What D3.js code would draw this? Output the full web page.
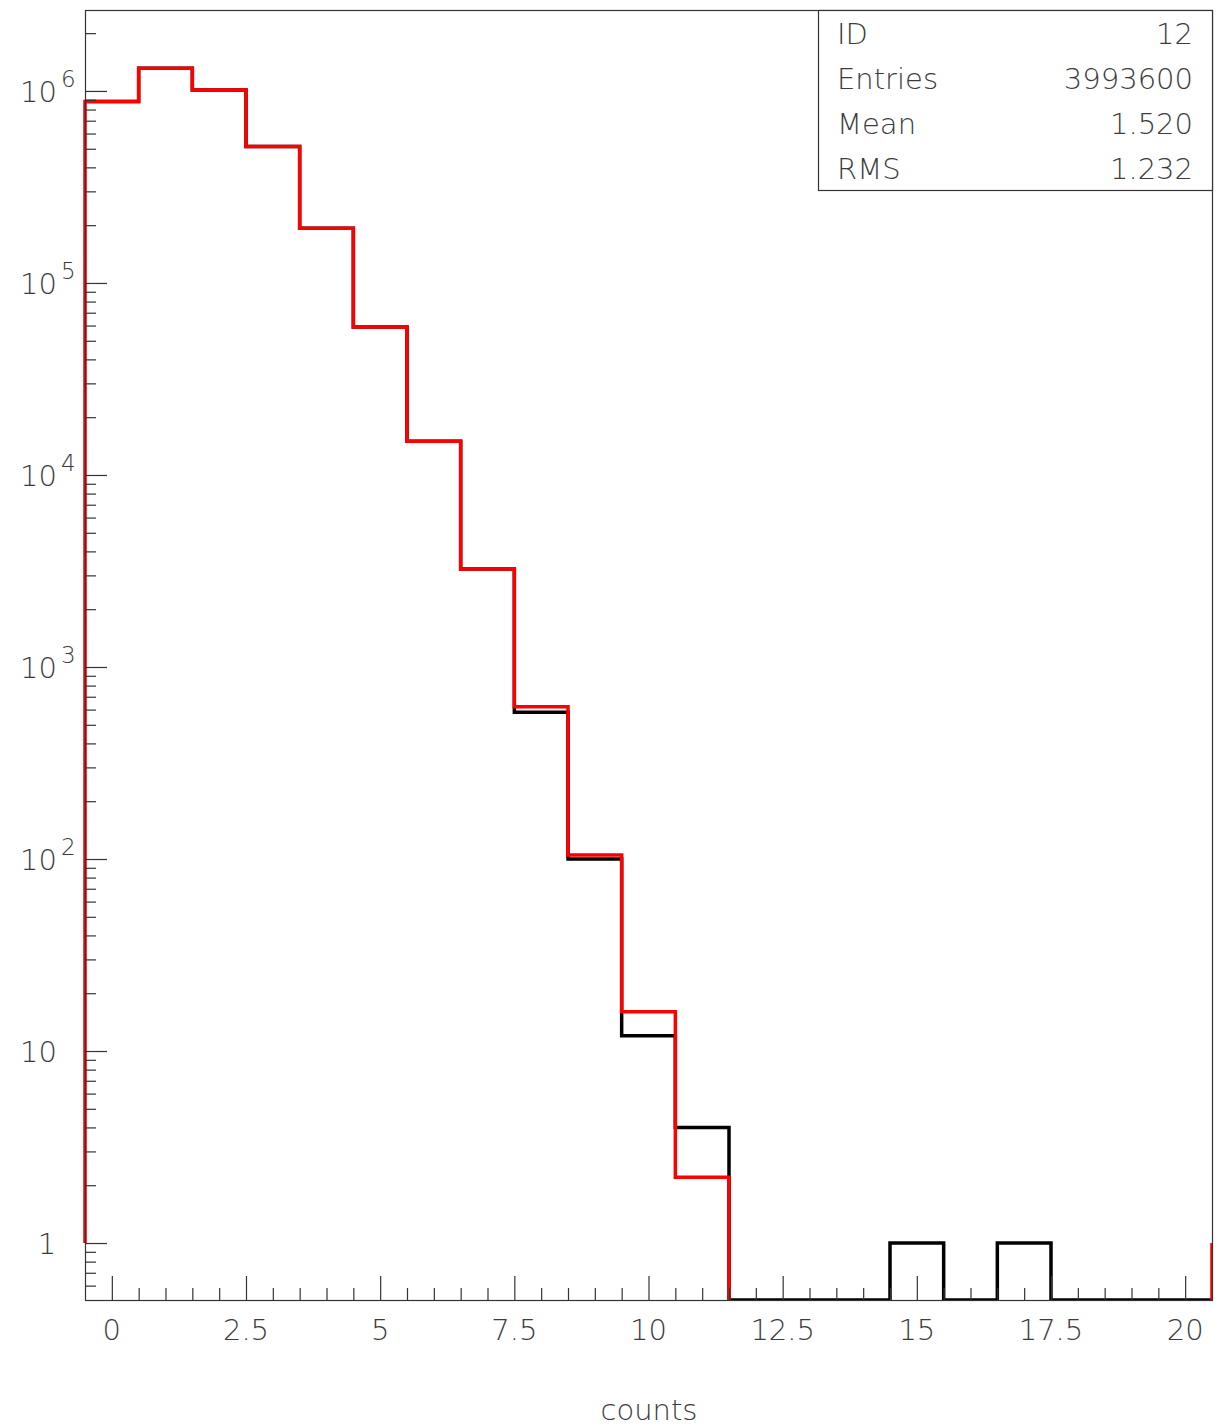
<!DOCTYPE html>
<html>
<head>
<meta charset="utf-8">
<script src="https://cdn.jsdelivr.net/npm/d3@7"></script>
<style>
  html, body { margin: 0; padding: 0; background: #fff; }
  svg text { font-family: "DejaVu Sans", "Liberation Sans", sans-serif; font-weight: 200; }
</style>
</head>
<body>
<svg id="chart" width="1231" height="1427"></svg>
<script>
// Histogram bins: unit-width bins centred on 0..20
const binCenters = d3.range(0, 21);
// Measured counts (black) per bin
const blackCounts = [880000, 1313000, 1012000, 513000, 193000, 59000, 15000, 3240, 581, 100, 12, 4, 0, 0, 0, 1, 0, 1, 0, 0, 0];
// Reference distribution (red) for the filled bins 0..11
const redCounts = [880000, 1313000, 1012000, 513000, 193000, 59000, 15000, 3240, 621, 105, 16, 2.2];

// Tick labels
const xTickValues = [0, 2.5, 5, 7.5, 10, 12.5, 15, 17.5, 20];
const yDecades = [1, 10, 1e2, 1e3, 1e4, 1e5, 1e6];

// Statistics box
const statLabels = ["ID", "Entries", "Mean", "RMS"];
const statValues = ["12", "3993600", "1.520", "1.232"];

const xTitle = "counts";

const frame = { left: 85, right: 1212, top: 10, bottom: 1300 };
const svg = d3.select("#chart");

const xDomain = [-0.5, 20.5];
const yMin = 0.505, yMax = 2.64e6;
const histBaseline = 1;

const x = d3.scaleLinear().domain(xDomain).range([frame.left, frame.right]);
const y = d3.scaleLog().domain([yMin, yMax]).range([frame.bottom, frame.top]);
const yv = v => y(Math.max(v, yMin));

const axisColor = "#333";
const textColor = "#3c3c3c";

// clip region: the frame, with a little slack on the left so the first edge shows in full
svg.append("defs").append("clipPath").attr("id", "plotClip")
  .append("rect")
  .attr("x", frame.left - 2).attr("y", frame.top)
  .attr("width", frame.right - frame.left + 2).attr("height", frame.bottom - frame.top);

// Step outline of a histogram
function stepPoints(counts, startAtBaseline) {
  const pts = [];
  if (startAtBaseline) pts.push([xDomain[0], histBaseline]);
  counts.forEach((c, i) => {
    const c0 = binCenters[i];
    pts.push([c0 - 0.5, c]);
    pts.push([c0 + 0.5, c]);
  });
  return pts;
}
const line = d3.line().x(d => x(d[0])).y(d => yv(d[1]));

const plot = svg.append("g").attr("clip-path", "url(#plotClip)");

// Black histogram
const blackPts = stepPoints(blackCounts, false);
plot.append("path")
  .attr("d", line(blackPts))
  .attr("fill", "none").attr("stroke", "#000").attr("stroke-width", 3.5)
  .attr("stroke-linejoin", "miter");

// Red histogram on top; it drops to the axis after its last filled bin
const redPts = stepPoints(redCounts, true);
redPts.push([binCenters[redCounts.length - 1] + 0.5, 0]);
plot.append("path")
  .attr("d", line(redPts))
  .attr("fill", "none").attr("stroke", "#ff0000").attr("stroke-width", 3.5)
  .attr("stroke-linejoin", "miter");
// closing edge of the red outline at the upper axis limit
plot.append("path")
  .attr("d", line([[xDomain[1], 0], [xDomain[1], histBaseline]]))
  .attr("fill", "none").attr("stroke", "#ff0000").attr("stroke-width", 3.5);

// Frame
svg.append("rect")
  .attr("x", frame.left + 0.5).attr("y", frame.top + 0.5)
  .attr("width", frame.right - frame.left).attr("height", frame.bottom - frame.top)
  .attr("fill", "none").attr("stroke", axisColor).attr("stroke-width", 1.2);

// X axis ticks
const xMinor = d3.range(0, 20.001, 0.5).filter(v => !xTickValues.includes(v));
const xAxisMajor = d3.axisBottom(x).tickValues(xTickValues).tickSize(-24).tickFormat("");
const xAxisMinor = d3.axisBottom(x).tickValues(xMinor).tickSize(-12).tickFormat("");
[xAxisMajor, xAxisMinor].forEach(ax => {
  const g = svg.append("g").attr("transform", `translate(0,${frame.bottom})`).call(ax);
  g.select(".domain").remove();
  g.selectAll("line").attr("stroke", axisColor).attr("stroke-width", 1.2);
});
svg.append("g").selectAll("text").data(xTickValues).join("text")
  .attr("x", d => x(d)).attr("y", frame.bottom + 40)
  .attr("text-anchor", "middle").attr("font-size", 29).attr("fill", textColor)
  .text(d => d3.format("")(d));

// Y axis ticks (log decades + 2..9 minors)
const yMinor = [];
for (let e = -1; e <= 6; e++) {
  for (let m = 2; m <= 9; m++) {
    const v = m * Math.pow(10, e);
    if (v >= yMin && v <= yMax) yMinor.push(v);
  }
}
const yAxisMajor = d3.axisLeft(y).tickValues(yDecades).tickSize(-22).tickFormat("");
const yAxisMinor = d3.axisLeft(y).tickValues(yMinor).tickSize(-11).tickFormat("");
[yAxisMajor, yAxisMinor].forEach(ax => {
  const g = svg.append("g").attr("transform", `translate(${frame.left},0)`).call(ax);
  g.select(".domain").remove();
  g.selectAll("line").attr("stroke", axisColor).attr("stroke-width", 1.2);
});

const yLab = svg.append("g").attr("fill", textColor);
yDecades.forEach(v => {
  const e = Math.round(Math.log10(v));
  const ty = y(v);
  if (e === 0) {
    yLab.append("text").attr("x", 47).attr("y", ty + 11)
      .attr("text-anchor", "middle").attr("font-size", 29).text("1");
  } else {
    yLab.append("text").attr("x", 20).attr("y", ty + 11)
      .attr("font-size", 29).text("10");
    if (e > 1) {
      yLab.append("text").attr("x", 61).attr("y", ty - 4)
        .attr("font-size", 23).text(String(e));
    }
  }
});

// Axis title
svg.append("text")
  .attr("x", (x(xDomain[0]) + x(xDomain[1])) / 2 + 0.5).attr("y", 1420)
  .attr("text-anchor", "middle").attr("font-size", 29).attr("fill", textColor)
  .text(xTitle);

// Statistics box
const box = { left: 818, right: frame.right, top: frame.top, bottom: 190 };
svg.append("rect")
  .attr("x", box.left + 0.5).attr("y", box.top + 0.5)
  .attr("width", box.right - box.left).attr("height", box.bottom - box.top)
  .attr("fill", "#fff").attr("stroke", axisColor).attr("stroke-width", 1.2);
const rowY = d3.scalePoint().domain(statLabels).range([44, 179]);
const sb = svg.append("g").attr("fill", textColor).attr("font-size", 29);
sb.selectAll("text.lab").data(statLabels).join("text").attr("class", "lab")
  .attr("x", 837).attr("y", d => rowY(d)).text(d => d);
sb.selectAll("text.val").data(statValues).join("text").attr("class", "val")
  .attr("x", 1193).attr("y", (d, i) => rowY(statLabels[i]))
  .attr("text-anchor", "end").text(d => d);
</script>
</body>
</html>
